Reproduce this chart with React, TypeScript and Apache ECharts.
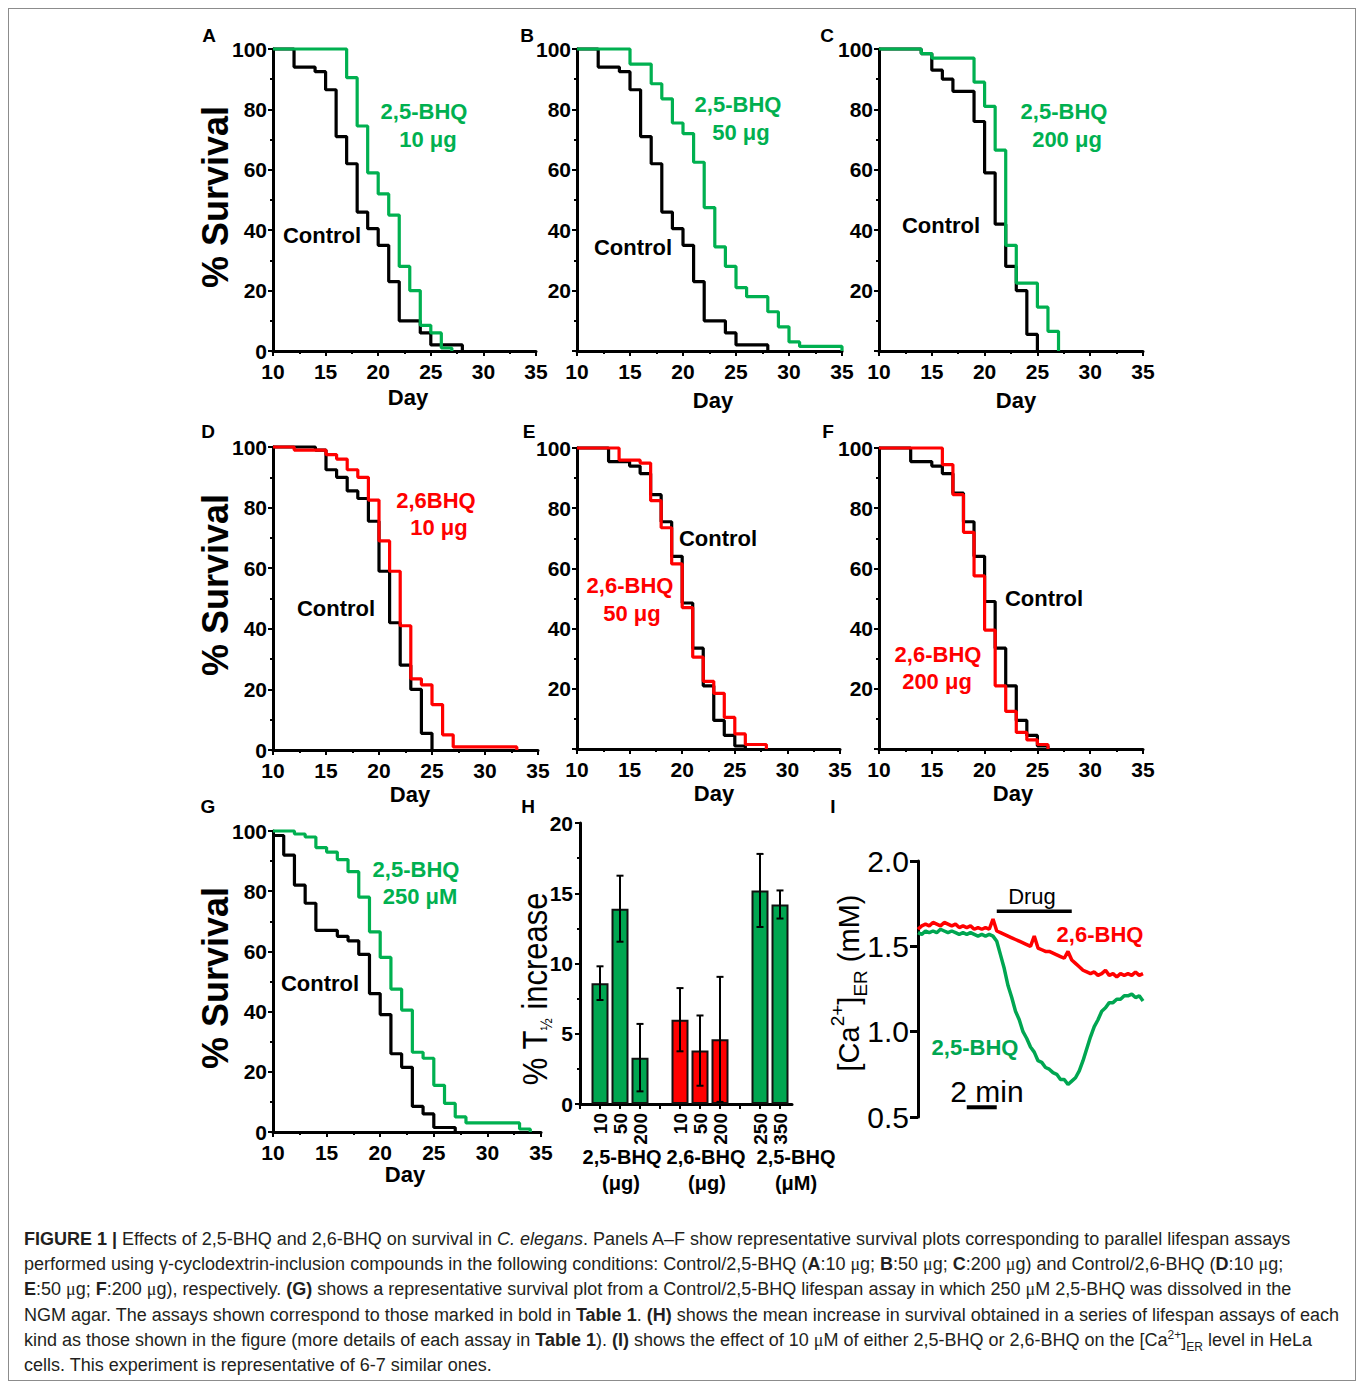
import React, { useEffect, useRef } from "react";
import * as echarts from "echarts";

const FONT = "'Liberation Sans', Arial, Helvetica, sans-serif";
const GREEN = "#00b050";
const GREEN_DARK = "#00a651";
const RED = "#ff0000";
const BLACK = "#000000";

// ---------- Survival data (day, % survival) ----------
const A_CTRL_DAYS = [10, 12, 14, 15, 16, 17, 18, 19, 20, 21, 22, 24, 25, 28];
const A_CTRL_SURV = [100, 94, 92.5, 86.5, 71, 62, 46, 40.5, 35, 23, 10, 6, 2, 0];
const A_BHQ_DAYS = [10, 17, 18, 19, 20, 21, 22, 23, 24, 25, 26, 27];
const A_BHQ_SURV = [100, 90.5, 74.5, 59, 52, 45, 28, 20, 8.5, 6, 1, 0];

const B_CTRL_DAYS = [10, 12, 14, 15, 16, 17, 18, 19, 20, 21, 22, 24, 25, 28];
const B_CTRL_SURV = [100, 94, 92.5, 86.5, 71, 62, 46, 40.5, 35, 23, 10, 6, 2, 0];
const B_BHQ_DAYS = [10, 15, 17, 18, 19, 20, 21, 22, 23, 24, 25, 26, 28, 29, 30, 31, 35];
const B_BHQ_SURV = [100, 95, 88.5, 83.5, 75.5, 72, 62.5, 47.5, 34.5, 28, 21, 18, 13, 8, 3, 1.5, 0];

const C_CTRL_DAYS = [10, 14, 15, 16, 17, 19, 20, 21, 22, 23, 24, 25];
const C_CTRL_SURV = [100, 98.5, 93, 90, 86, 76, 59, 42, 28, 20, 5.5, 0];
const C_BHQ_DAYS = [10, 14, 15, 19, 20, 21, 22, 23, 25, 26, 27];
const C_BHQ_SURV = [100, 98.5, 97, 89, 81, 66.5, 35, 22.5, 14.5, 6.5, 0];

const D_CTRL_DAYS = [10, 14, 15, 16, 17, 18, 19, 20, 21, 22, 23, 24, 25];
const D_CTRL_SURV = [100, 99, 92.5, 90, 85.5, 83, 75.5, 59, 42, 28, 20, 5.5, 0];
const D_BHQ_DAYS = [10, 12, 15, 16, 17, 18, 19, 20, 21, 22, 23, 24, 25, 26, 27, 33];
const D_BHQ_SURV = [100, 99, 97.5, 96, 92.5, 90, 82.5, 69, 59, 41, 23.5, 21.5, 15, 5, 1, 0];

const E_CTRL_DAYS = [10, 13, 15, 16, 17, 18, 19, 20, 21, 22, 23, 24, 25, 26];
const E_CTRL_SURV = [100, 95.5, 94, 91.5, 84.5, 75.5, 64, 48.5, 33.5, 21, 9.5, 4.5, 1, 0];
const E_BHQ_DAYS = [10, 14, 16, 17, 18, 19, 20, 21, 22, 23, 24, 25, 26, 28];
const E_BHQ_SURV = [100, 96, 95, 82.5, 73.5, 61.5, 47, 30.5, 22.5, 18.5, 10.5, 5, 1.5, 0];

const F_CTRL_DAYS = [10, 13, 15, 16, 17, 18, 19, 20, 21, 22, 23, 24, 25, 26];
const F_CTRL_SURV = [100, 95.5, 94, 91.5, 85, 75.5, 64, 49, 33.5, 21, 9.5, 4.5, 1, 0];
const F_BHQ_DAYS = [10, 16, 17, 18, 19, 20, 21, 22, 23, 24, 25, 26];
const F_BHQ_SURV = [100, 94.5, 84.5, 72, 57.5, 39.5, 21, 12.5, 5.5, 3, 1.5, 0];

const G_CTRL_DAYS = [10, 11, 12, 13, 14, 16, 17, 18, 19, 20, 21, 22, 23, 24, 25, 27];
const G_CTRL_SURV = [98.5, 92, 82, 76, 67, 65, 63.5, 59, 46, 39, 26, 21.5, 8.5, 6, 1.5, 0];
const G_BHQ_DAYS = [10, 12, 13, 14, 15, 16, 17, 18, 19, 20, 21, 22, 23, 24, 25, 26, 27, 28, 33, 34];
const G_BHQ_SURV = [100, 99, 98, 94.5, 93, 90.5, 86.5, 78, 66.5, 58, 47.5, 40.5, 26.5, 24.5, 15.5, 9.5, 5, 3, 1, 0];

// ---------- Panel H ----------
const H_POS = [1, 2, 3, 5, 6, 7, 9, 10];
const H_DOSE_LABELS = ["10", "50", "200", "10", "50", "200", "250", "350"];
const H_MEAN = [8.6, 13.9, 3.3, 6.0, 3.8, 4.6, 15.2, 14.2];
const H_ERR = [1.2, 2.35, 2.4, 2.25, 2.5, 4.45, 2.6, 1.0];
const H_COMPOUND = ["2,5", "2,5", "2,5", "2,6", "2,6", "2,6", "2,5", "2,5"];

// ---------- Panel I (time step 0.25 min) ----------
const I_STEP_MIN = 0.25;
const I_BHQ25 = [
  1.58, 1.57, 1.59, 1.58, 1.59, 1.58, 1.6, 1.59, 1.58, 1.59,
  1.58, 1.57, 1.58, 1.57, 1.58, 1.57, 1.56, 1.57, 1.56, 1.57,
  1.56, 1.53, 1.45, 1.37, 1.27, 1.2, 1.12, 1.07, 1.0, 0.96,
  0.91, 0.88, 0.83, 0.82, 0.79, 0.78, 0.76, 0.75, 0.72, 0.72,
  0.69, 0.71, 0.73, 0.77, 0.83, 0.9, 0.97, 1.03, 1.07, 1.12,
  1.14, 1.17, 1.17, 1.19, 1.19, 1.21, 1.21, 1.22, 1.2, 1.21,
  1.18,
];
const I_BHQ26 = [
  1.6, 1.62, 1.63, 1.62, 1.64, 1.63, 1.62, 1.64, 1.63, 1.62,
  1.63, 1.61, 1.62, 1.61, 1.62, 1.6, 1.61, 1.6, 1.61, 1.6,
  1.66, 1.59, 1.58, 1.57, 1.56, 1.55, 1.54, 1.53, 1.52, 1.51,
  1.5, 1.56, 1.49, 1.48, 1.47, 1.47, 1.46, 1.45, 1.44, 1.43,
  1.47, 1.42, 1.4, 1.38, 1.36, 1.35, 1.34, 1.35, 1.33, 1.34,
  1.36, 1.33, 1.34, 1.32, 1.34, 1.33, 1.34, 1.33, 1.35, 1.33,
  1.34,
];
const I_DRUG_ON = 5.25;
const I_DRUG_OFF = 10.25;
const I_DRUG_BAR_LEVEL = 1.705;
const I_SCALE_START = 3.25;
const I_SCALE_LEN_MIN = 2;
const I_SCALE_LEVEL = 0.557;

// ---------- Layout ----------
const SURV_GRIDS = [
  { left: 273, top: 49, width: 263, height: 302 },
  { left: 577, top: 49, width: 265, height: 302 },
  { left: 879, top: 49, width: 264, height: 302 },
  { left: 273, top: 447, width: 265, height: 303 },
  { left: 577, top: 448, width: 263, height: 301 },
  { left: 879, top: 448, width: 264, height: 301 },
  { left: 273, top: 831, width: 268, height: 301 },
];
const H_GRID = { left: 580, top: 823, width: 212, height: 281 };
const I_GRID = { left: 918, top: 861, width: 225, height: 256 };

const SURV_PANELS = [
  { cd: A_CTRL_DAYS, cs: A_CTRL_SURV, td: A_BHQ_DAYS, ts: A_BHQ_SURV, color: GREEN, zero: true },
  { cd: B_CTRL_DAYS, cs: B_CTRL_SURV, td: B_BHQ_DAYS, ts: B_BHQ_SURV, color: GREEN, zero: false },
  { cd: C_CTRL_DAYS, cs: C_CTRL_SURV, td: C_BHQ_DAYS, ts: C_BHQ_SURV, color: GREEN, zero: false },
  { cd: D_CTRL_DAYS, cs: D_CTRL_SURV, td: D_BHQ_DAYS, ts: D_BHQ_SURV, color: RED, zero: true },
  { cd: E_CTRL_DAYS, cs: E_CTRL_SURV, td: E_BHQ_DAYS, ts: E_BHQ_SURV, color: RED, zero: false },
  { cd: F_CTRL_DAYS, cs: F_CTRL_SURV, td: F_BHQ_DAYS, ts: F_BHQ_SURV, color: RED, zero: false },
  { cd: G_CTRL_DAYS, cs: G_CTRL_SURV, td: G_BHQ_DAYS, ts: G_BHQ_SURV, color: GREEN, zero: true },
];

const zip = (xs: number[], ys: number[]) => xs.map((x, i) => [x, ys[i]]);

const axisLineStyle = { show: true, onZero: false, lineStyle: { color: BLACK, width: 3 } };
const tickStyle = { color: BLACK, width: 2 };

function txt(x: number, y: number, text: string, o: any = {}) {
  return {
    type: "text",
    x,
    y,
    rotation: o.rot || 0,
    scaleX: o.scaleX || 1,
    z: 100,
    style: {
      text,
      fill: o.fill || BLACK,
      fontSize: o.size || 22,
      fontWeight: o.weight || "bold",
      fontFamily: FONT,
      align: o.align || "center",
      verticalAlign: "middle",
      lineHeight: o.lineHeight,
      rich: o.rich,
    },
  };
}

function buildOption() {
  const grid: any[] = [];
  const xAxis: any[] = [];
  const yAxis: any[] = [];
  const series: any[] = [];

  SURV_GRIDS.forEach((g, i) => {
    grid.push({ ...g, containLabel: false });
    xAxis.push({
      type: "value",
      gridIndex: i,
      min: 10,
      max: 35,
      interval: 5,
      axisLine: axisLineStyle,
      axisTick: { show: true, length: 5, lineStyle: tickStyle },
      minorTick: { show: true, splitNumber: 2, length: 3, lineStyle: tickStyle },
      splitLine: { show: false },
      minorSplitLine: { show: false },
      axisLabel: { color: BLACK, fontSize: 21, fontWeight: "bold", fontFamily: FONT, margin: 10 },
    });
    const showZero = SURV_PANELS[i].zero;
    yAxis.push({
      type: "value",
      gridIndex: i,
      min: 0,
      max: 100,
      interval: 20,
      axisLine: axisLineStyle,
      axisTick: { show: true, length: 5, lineStyle: tickStyle },
      minorTick: { show: true, splitNumber: 2, length: 3, lineStyle: tickStyle },
      splitLine: { show: false },
      minorSplitLine: { show: false },
      axisLabel: {
        color: BLACK,
        fontSize: 21,
        fontWeight: "bold",
        fontFamily: FONT,
        margin: 6,
        formatter: (v: number) => (v === 0 && !showZero ? "" : String(v)),
      },
    });
    const p = SURV_PANELS[i];
    series.push({
      type: "line",
      xAxisIndex: i,
      yAxisIndex: i,
      data: zip(p.cd, p.cs),
      step: "end",
      symbol: "none",
      showSymbol: false,
      clip: false,
      z: 2,
      lineStyle: { color: BLACK, width: 3.2 },
    });
    series.push({
      type: "line",
      xAxisIndex: i,
      yAxisIndex: i,
      data: zip(p.td, p.ts),
      step: "end",
      symbol: "none",
      showSymbol: false,
      clip: false,
      z: 3,
      lineStyle: { color: p.color, width: 3.2 },
    });
  });

  // Panel H
  const hi = 7;
  grid.push({ ...H_GRID });
  xAxis.push({
    type: "value",
    gridIndex: hi,
    min: 0,
    max: 10.6,
    interval: 1,
    axisLine: axisLineStyle,
    axisTick: { show: true, length: 5, lineStyle: tickStyle },
    splitLine: { show: false },
    axisLabel: {
      color: BLACK,
      fontSize: 19,
      fontWeight: "bold",
      fontFamily: FONT,
      rotate: 90,
      margin: 9,
      showMaxLabel: false,
      formatter: (v: number) => {
        const k = H_POS.indexOf(Math.round(v));
        return k >= 0 ? H_DOSE_LABELS[k] : "";
      },
    },
  });
  yAxis.push({
    type: "value",
    gridIndex: hi,
    min: 0,
    max: 20,
    interval: 5,
    axisLine: axisLineStyle,
    axisTick: { show: true, length: 5, lineStyle: tickStyle },
    minorTick: { show: true, splitNumber: 2, length: 3, lineStyle: tickStyle },
    splitLine: { show: false },
    minorSplitLine: { show: false },
    axisLabel: { color: BLACK, fontSize: 21, fontWeight: "bold", fontFamily: FONT, margin: 7 },
  });
  series.push({
    type: "bar",
    xAxisIndex: hi,
    yAxisIndex: hi,
    barWidth: 17,
    z: 2,
    itemStyle: { borderColor: BLACK, borderWidth: 2 },
    data: H_POS.map((p, k) => ({
      value: [p, H_MEAN[k]],
      itemStyle: { color: H_COMPOUND[k] === "2,6" ? RED : GREEN_DARK, borderColor: "#111", borderWidth: 2 },
    })),
  });
  series.push({
    type: "custom",
    xAxisIndex: hi,
    yAxisIndex: hi,
    z: 5,
    data: H_POS.map((p, k) => [p, H_MEAN[k] - H_ERR[k], H_MEAN[k] + H_ERR[k]]),
    encode: { x: 0, y: [1, 2] },
    renderItem: (params: any, api: any) => {
      const x = api.value(0);
      const top = api.coord([x, api.value(2)]);
      const bot = api.coord([x, api.value(1)]);
      const cap = 3.5;
      const st = { stroke: BLACK, lineWidth: 2 };
      return {
        type: "group",
        children: [
          { type: "line", shape: { x1: top[0], y1: top[1], x2: bot[0], y2: bot[1] }, style: st },
          { type: "line", shape: { x1: top[0] - cap, y1: top[1], x2: top[0] + cap, y2: top[1] }, style: st },
          { type: "line", shape: { x1: bot[0] - cap, y1: bot[1], x2: bot[0] + cap, y2: bot[1] }, style: st },
        ],
      };
    },
  });

  // Panel I
  const ii = 8;
  grid.push({ ...I_GRID });
  xAxis.push({ type: "value", gridIndex: ii, min: 0, max: 15, show: false });
  yAxis.push({
    type: "value",
    gridIndex: ii,
    min: 0.5,
    max: 2.0,
    interval: 0.5,
    axisLine: axisLineStyle,
    axisTick: { show: true, length: 8, lineStyle: { color: BLACK, width: 3 } },
    splitLine: { show: false },
    axisLabel: {
      color: BLACK,
      fontSize: 30,
      fontWeight: "normal",
      fontFamily: FONT,
      margin: 9,
      formatter: (v: number) => v.toFixed(1),
    },
  });
  series.push({
    type: "line",
    xAxisIndex: ii,
    yAxisIndex: ii,
    data: I_BHQ25.map((v, k) => [k * I_STEP_MIN, v]),
    symbol: "none",
    showSymbol: false,
    clip: false,
    z: 2,
    lineStyle: { color: GREEN_DARK, width: 3.5 },
  });
  series.push({
    type: "line",
    xAxisIndex: ii,
    yAxisIndex: ii,
    data: I_BHQ26.map((v, k) => [k * I_STEP_MIN, v]),
    symbol: "none",
    showSymbol: false,
    clip: false,
    z: 3,
    lineStyle: { color: RED, width: 3.5 },
  });

  return { animation: false, backgroundColor: "transparent", grid, xAxis, yAxis, series };
}

function buildGraphic(chart: any) {
  const R = Math.PI / 2;
  const g: any[] = [];
  // panel letters
  [
    ["A", 209, 35], ["B", 527, 35], ["C", 827, 35],
    ["D", 208, 431], ["E", 529, 431], ["F", 828, 431],
    ["G", 208, 806], ["H", 528, 806], ["I", 833, 806],
  ].forEach(([t, x, y]: any) => g.push(txt(x, y, t, { size: 19 })));
  // y titles
  [197, 585, 978].forEach((y) => g.push(txt(215, y, "% Survival", { size: 36, rot: R })));
  // Day labels
  [
    [408, 397], [713, 400], [1016, 400],
    [410, 794], [714, 793], [1013, 793],
    [405, 1174],
  ].forEach(([x, y]) => g.push(txt(x, y, "Day", { size: 22 })));
  // Control labels
  [
    [322, 235], [633, 247], [941, 225],
    [336, 608], [718, 538], [1044, 598],
    [320, 983],
  ].forEach(([x, y]) => g.push(txt(x, y, "Control", { size: 22 })));
  // Treatment labels
  const tl: any[] = [
    ["2,5-BHQ", 424, 111, GREEN], ["10 μg", 428, 139, GREEN],
    ["2,5-BHQ", 738, 104, GREEN], ["50 μg", 741, 132, GREEN],
    ["2,5-BHQ", 1064, 111, GREEN], ["200 μg", 1067, 139, GREEN],
    ["2,6BHQ", 436, 500, RED], ["10 μg", 439, 527, RED],
    ["2,6-BHQ", 630, 585, RED], ["50 μg", 632, 613, RED],
    ["2,6-BHQ", 938, 654, RED], ["200 μg", 937, 681, RED],
    ["2,5-BHQ", 416, 869, GREEN], ["250 μM", 420, 896, GREEN],
  ];
  tl.forEach(([t, x, y, c]) => g.push(txt(x, y, t, { size: 22, fill: c })));

  // Panel H group labels & title
  [
    ["2,5-BHQ", 622, 1157], ["(μg)", 621, 1183],
    ["2,6-BHQ", 706, 1157], ["(μg)", 707, 1183],
    ["2,5-BHQ", 796, 1157], ["(μM)", 796, 1183],
  ].forEach(([t, x, y]: any) => g.push(txt(x, y, t, { size: 20 })));
  g.push(
    txt(535, 989, "% T{s|½} increase", {
      size: 36,
      weight: "normal",
      rot: R,
      scaleX: 0.86,
      lineHeight: 40,
      rich: { s: { fontSize: 17, fontFamily: FONT, verticalAlign: "bottom", lineHeight: 14 } },
    })
  );

  // Panel I
  g.push(
    txt(849, 983, "[Ca{sup|2+}]{sub|ER} (mM)", {
      size: 29,
      weight: "normal",
      rot: R,
      lineHeight: 42,
      rich: {
        sup: { fontSize: 19, fontFamily: FONT, verticalAlign: "top", lineHeight: 14 },
        sub: { fontSize: 19, fontFamily: FONT, verticalAlign: "bottom", lineHeight: 12 },
      },
    })
  );
  g.push(txt(1032, 896, "Drug", { size: 22, weight: "normal" }));
  g.push(txt(1100, 934, "2,6-BHQ", { size: 22, fill: RED }));
  g.push(txt(975, 1047, "2,5-BHQ", { size: 22, fill: GREEN_DARK }));
  g.push(txt(987, 1091, "2 min", { size: 30, weight: "normal" }));

  const px = (t: number, v: number) => chart.convertToPixel({ gridIndex: 8 }, [t, v]);
  const d1 = px(I_DRUG_ON, I_DRUG_BAR_LEVEL);
  const d2 = px(I_DRUG_OFF, I_DRUG_BAR_LEVEL);
  g.push({
    type: "line",
    z: 100,
    shape: { x1: d1[0], y1: d1[1], x2: d2[0], y2: d2[1] },
    style: { stroke: BLACK, lineWidth: 3.5 },
  });
  const s1 = px(I_SCALE_START, I_SCALE_LEVEL);
  const s2 = px(I_SCALE_START + I_SCALE_LEN_MIN, I_SCALE_LEVEL);
  g.push({
    type: "line",
    z: 100,
    shape: { x1: s1[0], y1: s1[1], x2: s2[0], y2: s2[1] },
    style: { stroke: BLACK, lineWidth: 4 },
  });
  return g;
}

export default function App() {
  const ref = useRef<HTMLDivElement>(null);
  useEffect(() => {
    if (!ref.current) return;
    const chart = echarts.init(ref.current, null, { renderer: "svg" });
    chart.setOption(buildOption());
    chart.setOption({ graphic: buildGraphic(chart) });
    return () => chart.dispose();
  }, []);

  const capStyle: React.CSSProperties = {
    position: "absolute",
    left: 24,
    top: 1227,
    fontFamily: FONT,
    fontSize: 18,
    lineHeight: "25.2px",
    color: "#231f20",
    whiteSpace: "nowrap",
  };
  const mu = <span style={{ fontFamily: "'Liberation Serif', 'DejaVu Serif', serif" }}>μ</span>;
  const supStyle: React.CSSProperties = { position: "relative", top: -7, fontSize: 12, lineHeight: 0, verticalAlign: "baseline" };
  const subStyle: React.CSSProperties = { position: "relative", top: 5, fontSize: 12, lineHeight: 0, verticalAlign: "baseline" };

  return (
    <div style={{ position: "absolute", left: 0, top: 0, width: 1358, height: 1382, background: "#fff" }}>
      <div
        style={{
          position: "absolute",
          left: 8,
          top: 8,
          width: 1348,
          height: 1373,
          border: "1px solid #8c8c8c",
          boxSizing: "border-box",
        }}
      />
      <div ref={ref} style={{ position: "absolute", left: 0, top: 0, width: 1358, height: 1220 }} />
      <div style={capStyle}>
        <b>FIGURE 1 |</b> Effects of 2,5-BHQ and 2,6-BHQ on survival in <i>C. elegans</i>. Panels A–F show
        representative survival plots corresponding to parallel lifespan assays
        <br />
        performed using γ-cyclodextrin-inclusion compounds in the following conditions: Control/2,5-BHQ (<b>A</b>:10 {mu}g; <b>B</b>:50 {mu}g; <b>C</b>:200 {mu}g) and Control/2,6-BHQ (<b>D</b>:10 {mu}g;
        <br />
        <b>E</b>:50 {mu}g; <b>F</b>:200 {mu}g), respectively. <b>(G)</b> shows a representative survival plot from a Control/2,5-BHQ lifespan assay in which 250 {mu}M 2,5-BHQ was dissolved in the
        <br />
        NGM agar. The assays shown correspond to those marked in bold in <b>Table 1</b>. <b>(H)</b> shows the mean increase in survival obtained in a series of lifespan assays of each
        <br />
        kind as those shown in the figure (more details of each assay in <b>Table 1</b>). <b>(I)</b> shows the effect of 10 {mu}M of either 2,5-BHQ or 2,6-BHQ on the [Ca<span style={supStyle}>2+</span>]<span style={subStyle}>ER</span> level in HeLa
        <br />
        cells. This experiment is representative of 6-7 similar ones.
      </div>
    </div>
  );
}
